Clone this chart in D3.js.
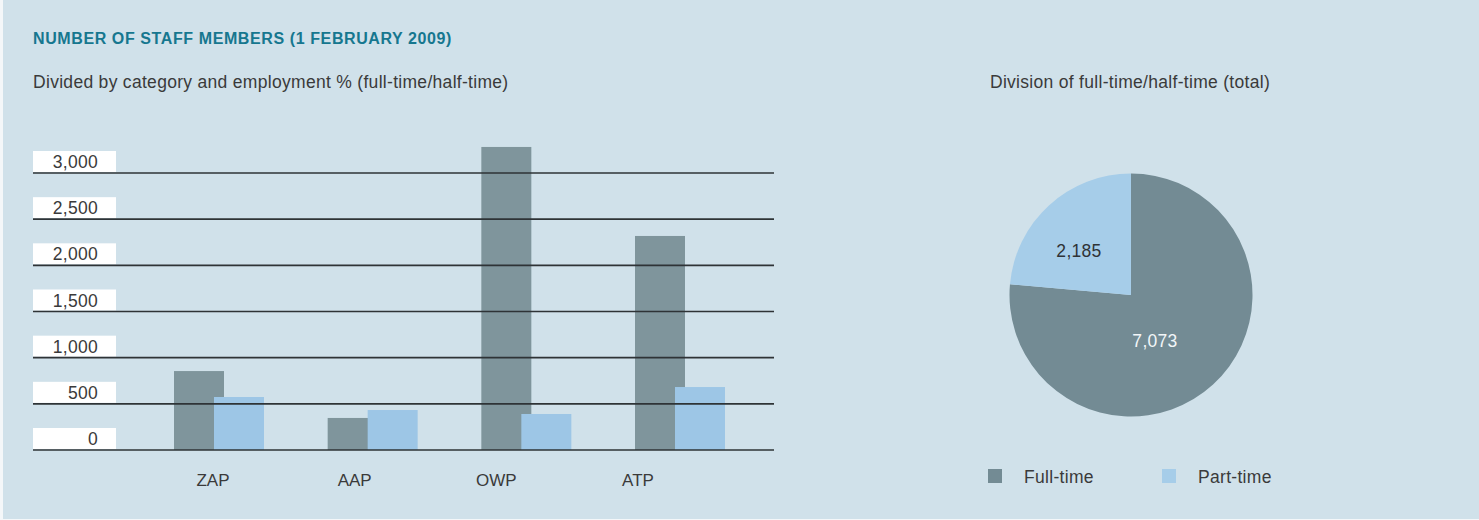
<!DOCTYPE html>
<html>
<head>
<meta charset="utf-8">
<script src="https://cdn.jsdelivr.net/npm/d3@7"></script>
<style>
    body { margin: 0; background: #f4f7f9; }
    svg text { font-family: "Liberation Sans", Arial, sans-serif; }
</style>
</head>
<body>
<div class="chart"></div>
<script>
const categories = ["ZAP", "AAP", "OWP", "ATP"];
const fullTime = [855, 347, 3282, 2318];
const partTime = [574, 433, 390, 682];
const yTicks = [0, 500, 1000, 1500, 2000, 2500, 3000];
const pieLabels = ["Full-time", "Part-time"];
const pieValues = [7073, 2185];

const width = 1479,
    height = 520,
    colFull = "#7f959c",
    colPart = "#9dc6e6",
    pieFull = "#738b94",
    piePart = "#a6cde9";

let svg = d3.select("div.chart")
    .append("svg")
    .attr("width", width)
    .attr("height", height);

// panel background
svg.append("rect")
    .attr("x", 3).attr("y", 0)
    .attr("width", width - 3).attr("height", height - 1)
    .attr("fill", "#d0e1ea");

svg.append("text")
    .attr("x", 33).attr("y", 44)
    .style("font-size", "16px")
    .style("font-weight", "bold")
    .style("letter-spacing", "0.6px")
    .attr("fill", "#16778f")
    .text("NUMBER OF STAFF MEMBERS (1 FEBRUARY 2009)");

svg.append("text")
    .attr("x", 33).attr("y", 88)
    .style("font-size", "17.5px")
    .style("letter-spacing", "0.3px")
    .attr("fill", "#3a3a3a")
    .text("Divided by category and employment % (full-time/half-time)");

// bar chart
let y = d3.scaleLinear().domain([0, 3000]).range([450, 173]);
let xGroup = d3.scalePoint().domain(categories).range([174, 635]);
let xLabel = d3.scalePoint().domain(categories).range([213, 638]);
let barW = 50, offset = 40;

// white tick label boxes
let ticks = svg.append("g");
ticks.selectAll("rect")
    .data(yTicks)
    .enter()
    .append("rect")
    .attr("x", 33)
    .attr("y", d => y(d) - 22)
    .attr("width", 83)
    .attr("height", 21)
    .attr("fill", "#ffffff");
ticks.selectAll("text")
    .data(yTicks)
    .enter()
    .append("text")
    .attr("x", 98)
    .attr("y", d => y(d) - 5)
    .attr("text-anchor", "end")
    .style("font-size", "17.5px")
    .style("letter-spacing", "0.3px")
    .attr("fill", "#3a3a3a")
    .text(d => d3.format(",")(d));

let bars = svg.append("g");
bars.selectAll("rect.full")
    .data(categories)
    .enter()
    .append("rect")
    .attr("class", "full")
    .attr("x", d => xGroup(d))
    .attr("y", (d, i) => y(fullTime[i]))
    .attr("width", barW)
    .attr("height", (d, i) => y(0) - y(fullTime[i]))
    .attr("fill", colFull);
bars.selectAll("rect.part")
    .data(categories)
    .enter()
    .append("rect")
    .attr("class", "part")
    .attr("x", d => xGroup(d) + offset)
    .attr("y", (d, i) => y(partTime[i]))
    .attr("width", barW)
    .attr("height", (d, i) => y(0) - y(partTime[i]))
    .attr("fill", colPart);

// gridlines on top of the bars
svg.append("g")
    .selectAll("line")
    .data(yTicks)
    .enter()
    .append("line")
    .attr("x1", 33).attr("x2", 774)
    .attr("y1", d => y(d)).attr("y2", d => y(d))
    .attr("stroke", "#2e3336")
    .attr("stroke-width", 1.6);

svg.append("g")
    .selectAll("text")
    .data(categories)
    .enter()
    .append("text")
    .attr("x", d => xLabel(d))
    .attr("y", 486)
    .attr("text-anchor", "middle")
    .style("font-size", "17px")
    .attr("fill", "#3a3a3a")
    .text(d => d);

// pie chart
svg.append("text")
    .attr("x", 1130).attr("y", 88)
    .attr("text-anchor", "middle")
    .style("font-size", "17.5px")
    .style("letter-spacing", "0.3px")
    .attr("fill", "#3a3a3a")
    .text("Division of full-time/half-time (total)");

let cx = 1131, cy = 295, r = 121.5;
let pie = d3.pie().sort(null)(pieValues);
let arc = d3.arc().innerRadius(0).outerRadius(r);
let pieG = svg.append("g").attr("transform", `translate(${cx},${cy})`);
pieG.selectAll("path")
    .data(pie)
    .enter()
    .append("path")
    .attr("d", arc)
    .attr("fill", (d, i) => i === 0 ? pieFull : piePart);

pieG.selectAll("text")
    .data(pie)
    .enter()
    .append("text")
    .attr("transform", (d, i) => {
        let c = i === 0 ? [24, 52] : [-52, -38];
        return `translate(${c[0]},${c[1]})`;
    })
    .attr("text-anchor", "middle")
    .style("font-size", "17.5px")
    .style("letter-spacing", "0.3px")
    .attr("fill", (d, i) => i === 0 ? "#f2f6f8" : "#2f3336")
    .text(d => d3.format(",")(d.value));

// legend
let legendX = d3.scalePoint().domain(pieLabels).range([988, 1162]);
let legend = svg.append("g")
    .selectAll("g")
    .data(pieLabels)
    .enter()
    .append("g")
    .attr("transform", d => `translate(${legendX(d)},469)`);
legend.append("rect")
    .attr("width", 14).attr("height", 14)
    .attr("fill", (d, i) => i === 0 ? pieFull : piePart);
legend.append("text")
    .attr("x", 36).attr("y", 14)
    .style("font-size", "17.5px")
    .style("letter-spacing", "0.3px")
    .attr("fill", "#3a3a3a")
    .text(d => d);
</script>
</body>
</html>
